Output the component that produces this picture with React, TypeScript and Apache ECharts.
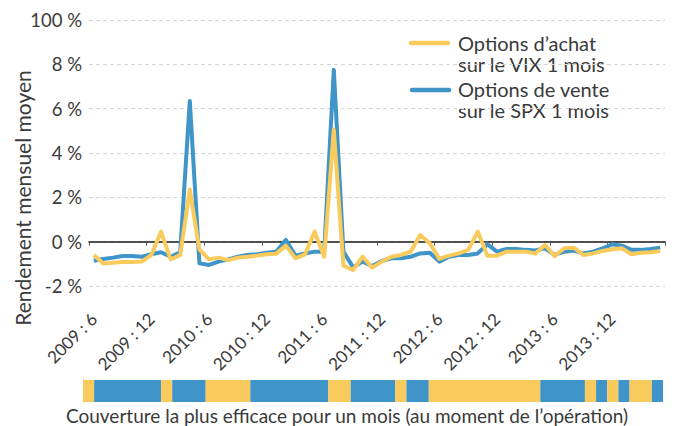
import React, { useEffect, useRef } from "react";
import * as echarts from "echarts";

const months = [
  "2009 : 6", "2009 : 7", "2009 : 8", "2009 : 9", "2009 : 10", "2009 : 11", "2009 : 12",
  "2010 : 1", "2010 : 2", "2010 : 3", "2010 : 4", "2010 : 5", "2010 : 6", "2010 : 7", "2010 : 8", "2010 : 9", "2010 : 10", "2010 : 11", "2010 : 12",
  "2011 : 1", "2011 : 2", "2011 : 3", "2011 : 4", "2011 : 5", "2011 : 6", "2011 : 7", "2011 : 8", "2011 : 9", "2011 : 10", "2011 : 11", "2011 : 12",
  "2012 : 1", "2012 : 2", "2012 : 3", "2012 : 4", "2012 : 5", "2012 : 6", "2012 : 7", "2012 : 8", "2012 : 9", "2012 : 10", "2012 : 11", "2012 : 12",
  "2013 : 1", "2013 : 2", "2013 : 3", "2013 : 4", "2013 : 5", "2013 : 6", "2013 : 7", "2013 : 8", "2013 : 9", "2013 : 10", "2013 : 11", "2013 : 12",
  "2014 : 1", "2014 : 2", "2014 : 3", "2014 : 4", "2014 : 5",
];

// Options d'achat sur le VIX 1 mois (%)
const vixCalls = [
  -0.6, -0.98, -0.95, -0.92, -0.92, -0.9, -0.6, 0.45, -0.8, -0.6,
  2.35, -0.35, -0.8, -0.72, -0.83, -0.72, -0.68, -0.63, -0.57, -0.54,
  -0.18, -0.75, -0.57, 0.45, -0.68, 5.05, -1.08, -1.28, -0.68, -1.17,
  -0.9, -0.68, -0.6, -0.45, 0.3, -0.07, -0.78, -0.63, -0.53, -0.37,
  0.45, -0.63, -0.63, -0.45, -0.45, -0.45, -0.53, -0.15, -0.65, -0.3,
  -0.27, -0.6, -0.53, -0.42, -0.34, -0.3, -0.57, -0.5, -0.48, -0.42,
];

// Options de vente sur le SPX 1 mois (%)
const spxPuts = [
  -0.86, -0.78, -0.72, -0.65, -0.65, -0.68, -0.57, -0.48, -0.68, -0.48,
  6.35, -0.98, -1.05, -0.9, -0.8, -0.68, -0.6, -0.57, -0.5, -0.45,
  0.08, -0.63, -0.53, -0.45, -0.45, 7.75, -0.45, -1.15, -0.9, -1.1,
  -0.87, -0.75, -0.75, -0.68, -0.53, -0.5, -0.9, -0.68, -0.6, -0.6,
  -0.53, -0.12, -0.45, -0.33, -0.33, -0.37, -0.4, -0.3, -0.6, -0.45,
  -0.4, -0.53, -0.45, -0.3, -0.12, -0.18, -0.37, -0.37, -0.33, -0.27,
];

// Most effective hedge per month: "C" = VIX calls, "P" = SPX puts
const bestHedge = [
  "C",
  "P", "P", "P", "P", "P", "P",
  "C",
  "P", "P", "P",
  "C", "C", "C", "C",
  "P", "P", "P", "P", "P", "P", "P",
  "C", "C",
  "P", "P", "P", "P",
  "C",
  "P", "P",
  "C", "C", "C", "C", "C", "C", "C", "C", "C", "C",
  "P", "P", "P", "P",
  "C",
  "P",
  "C",
  "P",
  "C", "C",
  "P",
];

const yTicks = [-2, 0, 2, 4, 6, 8, 10];
const yTickLabels = ["-2 %", "0 %", "2 %", "4 %", "6 %", "8 %", "100 %"];

const YELLOW = "#F9CB5C";
const BLUE = "#3F94C8";
const TEXT = "#3a3a3a";
const FONT = "Lato, 'Noto Sans', sans-serif";

export default function App() {
  const ref = useRef<HTMLDivElement>(null);
  useEffect(() => {
    if (!ref.current) return;
    const chart = echarts.init(ref.current, undefined, { renderer: "svg" });

    // group consecutive months with the same best hedge into runs
    const runs: number[][] = [];
    bestHedge.forEach((h, i) => {
      const code = h === "C" ? 0 : 1;
      const last = runs[runs.length - 1];
      if (last && last[2] === code) last[1] = i + 1;
      else runs.push([i, i + 1, code]);
    });

    const textLine = (text: string, x: number, y: number, size: number) => ({
      type: "text",
      x,
      y,
      style: { text, fontSize: size, fontFamily: FONT, fill: TEXT, align: "left", verticalAlign: "middle" },
    });

    const option: any = {
      animation: false,
      textStyle: { fontFamily: FONT },
      grid: [
        { left: 89, right: 10, top: 20, bottom: 140, containLabel: false },
        { left: 83, width: 580, top: 380, height: 22, containLabel: false },
      ],
      xAxis: [
        {
          type: "category",
          gridIndex: 0,
          data: months,
          boundaryGap: true,
          axisLine: { onZero: true, lineStyle: { color: "#1a1a1a", width: 1.5 } },
          axisTick: { show: true, interval: 5, length: 4, lineStyle: { color: "#555", width: 1 } },
          axisLabel: {
            interval: 5,
            rotate: 45,
            margin: 30,
            fontSize: 17,
            color: TEXT,
            fontFamily: FONT,
          },
          splitLine: { show: false },
        },
        {
          type: "value",
          gridIndex: 1,
          min: 0,
          max: bestHedge.length,
          show: false,
        },
      ],
      yAxis: [
        {
          type: "value",
          gridIndex: 0,
          min: -2,
          max: 10,
          interval: 2,
          axisLine: { show: false },
          axisTick: { show: false },
          axisLabel: {
            margin: 7,
            fontSize: 18.5,
            color: TEXT,
            fontFamily: FONT,
            formatter: (v: number) => {
              const idx = yTicks.indexOf(v);
              return idx >= 0 ? yTickLabels[idx] : "";
            },
          },
          splitLine: { show: true, lineStyle: { color: "#d6d6d6", type: [4, 3], width: 1 } },
        },
        {
          type: "value",
          gridIndex: 1,
          min: 0,
          max: 1,
          axisLine: { show: true, lineStyle: { color: "#9a9a9a", width: 1 } },
          axisTick: { show: false },
          axisLabel: { show: false },
          splitLine: { show: false },
        },
      ],
      series: [
        {
          name: "Options de vente sur le SPX 1 mois",
          type: "line",
          xAxisIndex: 0,
          yAxisIndex: 0,
          data: spxPuts,
          symbol: "none",
          lineStyle: { color: BLUE, width: 4, join: "round" },
          itemStyle: { color: BLUE },
          z: 2,
        },
        {
          name: "Options d’achat sur le VIX 1 mois",
          type: "line",
          xAxisIndex: 0,
          yAxisIndex: 0,
          data: vixCalls,
          symbol: "none",
          lineStyle: { color: YELLOW, width: 4, join: "round" },
          itemStyle: { color: YELLOW },
          z: 3,
        },
        {
          type: "custom",
          xAxisIndex: 1,
          yAxisIndex: 1,
          data: runs,
          encode: { x: [0, 1], y: 2 },
          renderItem: (params: any, api: any) => {
            const p0 = api.coord([api.value(0), 1]);
            const p1 = api.coord([api.value(1), 0]);
            return {
              type: "rect",
              shape: { x: p0[0], y: p0[1], width: p1[0] - p0[0], height: p1[1] - p0[1] },
              style: { fill: api.value(2) === 0 ? YELLOW : BLUE },
            };
          },
          z: 1,
        },
      ],
      graphic: [
        {
          type: "text",
          x: 22,
          y: 198,
          rotation: Math.PI / 2,
          style: {
            text: "Rendement mensuel moyen",
            fontSize: 21,
            fontFamily: FONT,
            fill: TEXT,
            align: "center",
            verticalAlign: "middle",
          },
        },
        {
          type: "line",
          shape: { x1: 411, y1: 43, x2: 448, y2: 43 },
          style: { stroke: YELLOW, lineWidth: 4.5, lineCap: "round" },
        },
        textLine("Options d’achat", 458, 42.5, 20),
        textLine("sur le VIX 1 mois", 458, 63.5, 20),
        {
          type: "line",
          shape: { x1: 412, y1: 90, x2: 449, y2: 90 },
          style: { stroke: BLUE, lineWidth: 4.5, lineCap: "round" },
        },
        textLine("Options de vente", 458, 88.5, 20),
        textLine("sur le SPX 1 mois", 458, 109.5, 20),
        {
          type: "text",
          x: 347,
          y: 415,
          style: {
            text: "Couverture la plus efficace pour un mois (au moment de l’opération)",
            fontSize: 19,
            fontFamily: FONT,
            fill: TEXT,
            align: "center",
            verticalAlign: "middle",
          },
        },
      ],
    };
    chart.setOption(option);
    return () => chart.dispose();
  }, []);
  return <div ref={ref} style={{ width: 675, height: 426, position: "absolute", left: 0, top: 0 }} />;
}
